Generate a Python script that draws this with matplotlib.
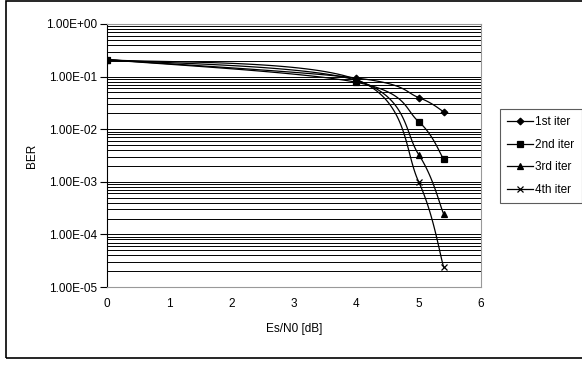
import matplotlib
matplotlib.use("Agg")
import matplotlib.pyplot as plt
import numpy as np
from matplotlib.patches import Rectangle

plt.rcParams["font.family"] = ["Liberation Sans", "DejaVu Sans"]

# data
es_n0 = [0, 4, 5, 5.4]
ber_iter1 = [0.21, 0.094, 0.040, 0.0215]
ber_iter2 = [0.21, 0.078, 0.0139, 0.0027]
ber_iter3 = [0.21, 0.085, 0.0033, 0.000245]
ber_iter4 = [0.21, 0.088, 0.0010, 0.000024]
series_labels = ["1st iter", "2nd iter", "3rd iter", "4th iter"]
markers = ["D", "s", "^", "x"]
y_ticks = [1e0, 1e-1, 1e-2, 1e-3, 1e-4, 1e-5]
y_ticklabels = ["1.00E+00", "1.00E-01", "1.00E-02", "1.00E-03", "1.00E-04", "1.00E-05"]

FS = 8.5


def smooth(x, y, n=40):
    # Excel-style smoothed line: Bezier segments, Catmull-Rom control points
    pts = np.column_stack([x, np.log10(y)])
    ext = np.vstack([pts[0], pts, pts[-1]])
    out = []
    for i in range(len(pts) - 1):
        p0, p1, p2, p3 = ext[i], ext[i + 1], ext[i + 2], ext[i + 3]
        c1 = p1 + (p2 - p0) / 6
        c2 = p2 - (p3 - p1) / 6
        t = np.linspace(0, 1, n)[:, None]
        seg = (1 - t) ** 3 * p1 + 3 * (1 - t) ** 2 * t * c1 + 3 * (1 - t) * t ** 2 * c2 + t ** 3 * p2
        out.append(seg)
    out = np.vstack(out)
    return out[:, 0], 10 ** out[:, 1]


fig = plt.figure(figsize=(5.82, 3.65), dpi=100)
ax = fig.add_axes([107 / 582, 1 - 287 / 365, (481 - 107) / 582, (287 - 24) / 365])

# outer chart border
fig.add_artist(Rectangle((6 / 582, 1 - 358 / 365), 1.0, (358 - 1) / 365,
                         transform=fig.transFigure, fill=False, edgecolor="black", lw=1.2))

handles = []
for ys, lab, mk in zip([ber_iter1, ber_iter2, ber_iter3, ber_iter4], series_labels, markers):
    sx, sy = smooth(es_n0, ys)
    ax.plot(sx, sy, color="black", lw=0.9, zorder=3)
    ms = 4.0 if mk != "D" else 3.4
    ax.plot(es_n0, ys, linestyle="none", marker=mk, color="black", ms=ms, mew=0.9, zorder=4)
    h, = ax.plot([], [], color="black", lw=0.9, marker=mk, ms=ms, mew=0.9, label=lab)
    handles.append(h)

ax.set_yscale("log")
ax.set_ylim(1e-5, 1e0)
ax.set_xlim(0, 6)
ax.set_xticks(range(0, 7))
ax.set_yticks(y_ticks)
ax.set_yticklabels(y_ticklabels)
ax.yaxis.set_minor_locator(matplotlib.ticker.LogLocator(base=10, subs=np.arange(2, 10)))
ax.yaxis.set_minor_formatter(matplotlib.ticker.NullFormatter())
ax.grid(True, which="both", axis="y", color="black", lw=0.7)
ax.tick_params(axis="y", which="major", direction="out", length=5, width=0.8, labelsize=FS, pad=2)
ax.tick_params(axis="y", which="minor", length=0)
ax.tick_params(axis="x", length=0, labelsize=FS, pad=8)

for side in ["top", "right"]:
    ax.spines[side].set_color("#999999")
ax.spines["bottom"].set_color("#999999")
ax.spines["left"].set_color("black")

ax.set_xlabel("Es/N0 [dB]", fontsize=FS, labelpad=9)
ax.set_ylabel("BER", fontsize=FS, labelpad=6)

leg = fig.legend(handles=handles, loc="upper left", bbox_to_anchor=(500 / 582, 1 - 109 / 365),
                 fontsize=FS, frameon=True, fancybox=False, handlelength=2.2,
                 handletextpad=0.2, borderpad=0.6, labelspacing=0.9, borderaxespad=0)
leg.get_frame().set_edgecolor("#333333")
leg.get_frame().set_linewidth(0.8)

fig.savefig("out.png", dpi=100)
